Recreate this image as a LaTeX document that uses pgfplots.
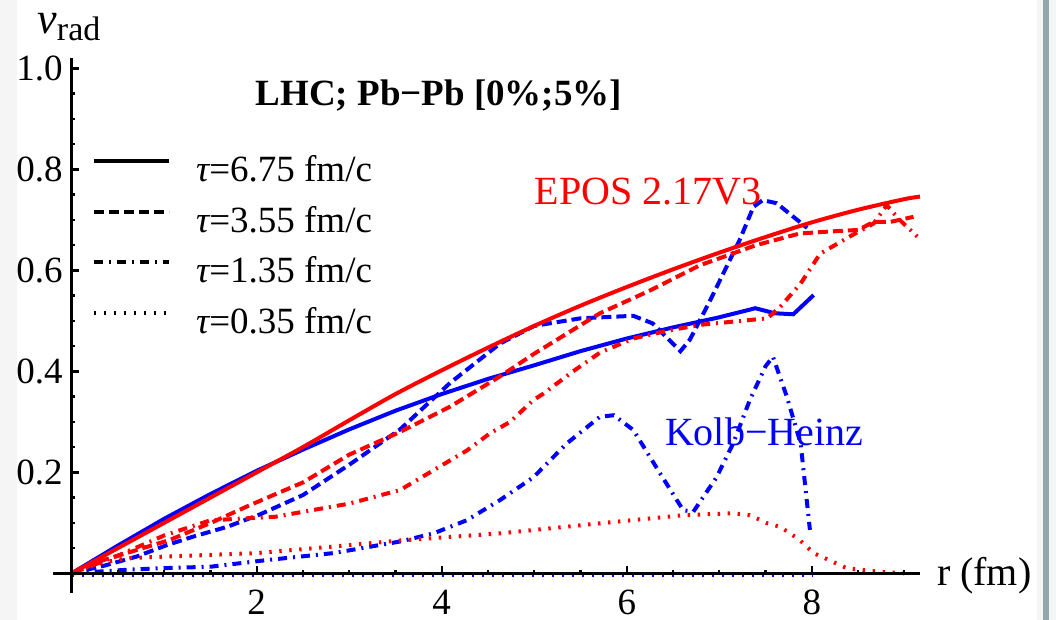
\documentclass[border=0pt]{standalone}
\usepackage{fontspec}
\setmainfont{Liberation Serif}
\usepackage{pgfplots}
\pgfplotsset{compat=1.18}
\definecolor{mred}{rgb}{1,0,0}
\definecolor{mblue}{rgb}{0,0,1}
\definecolor{bargrey}{HTML}{92A7AA}
\definecolor{lightbg}{HTML}{F5F5F5}
\tikzset{
  mdash/.style={dash pattern=on 5pt off 2.5pt},
  mdashdot/.style={dash pattern=on 4.5pt off 3pt on 1pt off 3pt},
  mdot/.style={dash pattern=on 1.2pt off 3.8pt},
}
\newcommand{\tfont}{\fontsize{18.5}{22}\selectfont}
\begin{document}
\begin{tikzpicture}
\useasboundingbox (0,0) rectangle (528pt,310pt);
\fill[white] (0,0) rectangle (528pt,310pt);
\fill[lightbg] (0,0) rectangle (8.5pt,310pt);
\fill[lightbg] (518.5pt,0) rectangle (521.5pt,310pt);
\fill[bargrey] (521.5pt,0) rectangle (524.25pt,310pt);
\fill[lightbg] (524.25pt,0) rectangle (528pt,310pt);
\begin{axis}[
  at={(26.6pt,13.25pt)}, anchor=south west,
  scale only axis, width=433.4pt, height=267.6pt,
  xmin=-0.2, xmax=9.17, ymin=-0.04, ymax=1.02,
  axis lines=middle, axis line style={-, line width=1.6pt, black},
  axis on top, clip=false,
  xtick={2,4,6,8}, ytick={0.2,0.4,0.6,0.8,1.0},
  minor xtick={0.5,1,1.5,2.5,3,3.5,4.5,5,5.5,6.5,7,7.5,8.5,9},
  minor ytick={0.05,0.1,0.15,0.25,0.3,0.35,0.45,0.5,0.55,0.65,0.7,0.75,0.85,0.9,0.95},
  tick align=inside,
  major tick length=3.5pt, minor tick length=1.8pt,
  every tick/.style={black, line width=1.2pt},
  /pgf/number format/assume math mode=true,
  xticklabel style={font=\tfont, inner sep=0pt, anchor=north, yshift=-8.3pt},
  yticklabel style={font=\tfont, inner sep=0pt, anchor=east, xshift=-4.3pt,
    /pgf/number format/.cd, fixed, fixed zerofill, precision=1},
  legend style={at={(axis cs:0.216,0.641)}, anchor=west, draw=none, fill=none,
    inner sep=0pt, font=\tfont, row sep=8.25pt,
    /tikz/every odd column/.append style={column sep=12.5pt},
    nodes={inner sep=0pt, text height=12.5pt, text depth=4.5pt}},
  legend cell align=left,
  legend image code/.code={\draw[#1] (0pt,6.3pt) -- (37.5pt,6.3pt);},
]
\addlegendimage{black, solid, line width=2pt}
\addlegendentry{{\itshape τ}=6.75 fm/c}
\addlegendimage{black, mdash, line width=2pt}
\addlegendentry{{\itshape τ}=3.55 fm/c}
\addlegendimage{black, mdashdot, line width=2pt}
\addlegendentry{{\itshape τ}=1.35 fm/c}
\addlegendimage{black, mdot, line width=2pt}
\addlegendentry{{\itshape τ}=0.35 fm/c}

% Kolb-Heinz (blue)
\addplot[mblue, mdot, line width=2pt, forget plot] coordinates {
 (0,-0.004) (2,-0.004) (4,-0.004) (6,-0.004) (8,-0.004)};
\addplot[mblue, mdashdot, line width=2pt, forget plot] coordinates {
 (0,0) (0.6,0.007) (0.95,0.01) (1.5,0.013) (2.1,0.026) (2.83,0.04) (3.55,0.063)
 (3.91,0.079) (4.27,0.105) (4.63,0.145) (4.99,0.19) (5.35,0.257) (5.71,0.31)
 (5.86,0.313) (6.07,0.284) (6.36,0.198) (6.61,0.125) (6.72,0.122) (6.97,0.19)
 (7.15,0.257) (7.33,0.343) (7.5,0.41) (7.58,0.429) (7.73,0.35) (7.88,0.257) (7.98,0.086)};
\addplot[mblue, mdash, line width=2pt, forget plot] coordinates {
 (0,0) (0.35,0.015) (0.7,0.033) (1.03,0.056) (1.32,0.073) (1.68,0.092) (2.04,0.117)
 (2.5,0.155) (3,0.215) (3.55,0.285) (4.09,0.377) (4.63,0.455) (5,0.49) (5.5,0.505)
 (6.07,0.51) (6.28,0.495) (6.58,0.44) (6.68,0.462) (6.9,0.54) (7.22,0.66)
 (7.37,0.726) (7.47,0.739) (7.62,0.733) (7.95,0.684)};
\addplot[mblue, solid, line width=2pt, forget plot] coordinates {
 (0,0) (0.5,0.055) (1,0.108) (1.5,0.157) (2,0.203) (2.5,0.245) (3,0.285) (3.5,0.322)
 (4,0.355) (4.5,0.385) (5,0.412) (5.5,0.44) (6,0.465) (6.5,0.487) (7,0.507)
 (7.39,0.525) (7.6,0.515) (7.8,0.513) (8.02,0.551)};

% EPOS 2.17V3 (red)
\addplot[mred, mdot, line width=2pt, forget plot] coordinates {
 (0,0) (0.3,0.02) (0.6,0.03) (1,0.033) (2,0.04) (2.83,0.053) (3.55,0.065) (4.63,0.079)
 (5.71,0.099) (6.61,0.115) (7.15,0.119) (7.33,0.115) (7.52,0.099) (7.66,0.092)
 (7.87,0.066) (8.02,0.04) (8.38,0.01) (8.74,0.003) (9.0,0.0)};
\addplot[mred, mdashdot, line width=2pt, forget plot] coordinates {
 (0,0) (0.5,0.035) (1,0.075) (1.5,0.105) (2,0.11) (2.2,0.112) (3,0.138) (3.55,0.165)
 (4.27,0.243) (4.52,0.277) (4.74,0.30) (4.99,0.343) (5.1,0.356) (5.42,0.40) (5.71,0.437)
 (6.07,0.465) (6.43,0.48) (6.79,0.492) (7.52,0.505) (7.66,0.528) (7.88,0.574)
 (8.09,0.633) (8.41,0.667) (8.67,0.693) (8.81,0.729) (8.95,0.70) (9.14,0.667)};
\addplot[mred, mdash, line width=2pt, forget plot] coordinates {
 (0,0) (0.34,0.026) (0.7,0.046) (1.06,0.066) (1.53,0.102) (1.89,0.132) (2.18,0.155)
 (2.5,0.18) (3,0.235) (3.55,0.28) (4.09,0.33) (4.63,0.39) (5,0.435) (5.71,0.515)
 (6.25,0.56) (6.79,0.61) (7.4,0.65) (7.87,0.673) (8.2,0.677) (8.5,0.68) (8.67,0.696)
 (8.85,0.696) (9.1,0.706)};
\addplot[mred, solid, line width=2pt, smooth, forget plot] coordinates {
 (0,0) (0.5,0.05) (1,0.1) (1.5,0.15) (2,0.2) (2.5,0.25) (3,0.303) (3.5,0.355)
 (4,0.402) (4.5,0.447) (5,0.49) (5.5,0.53) (6,0.567) (6.5,0.602) (7,0.635)
 (7.5,0.666) (8,0.695) (8.5,0.72) (9,0.741) (9.17,0.746)};

\node[font=\bfseries\tfont, anchor=base] at (axis cs:3.97,0.927) {LHC; Pb−Pb [0\%;5\%]};
\node[font=\fontsize{20}{24}\selectfont, text=mred, anchor=base] at (axis cs:6.23,0.73) {EPOS 2.17V3};
\node[font=\fontsize{20}{24}\selectfont, text=mblue, anchor=base] at (axis cs:7.485,0.254) {Kolb−Heinz};
\node[font=\fontsize{20}{24}\selectfont, anchor=base west, inner sep=0pt] at (axis cs:9.35,-0.025) {r (fm)};
\node[anchor=base west, inner sep=0pt] at (axis cs:-0.375,1.07)
  {\fontsize{22}{26}\selectfont\itshape v\raisebox{-3.5pt}{\upshape\fontsize{17}{20}\selectfont rad}};
\end{axis}
\end{tikzpicture}
\end{document}
